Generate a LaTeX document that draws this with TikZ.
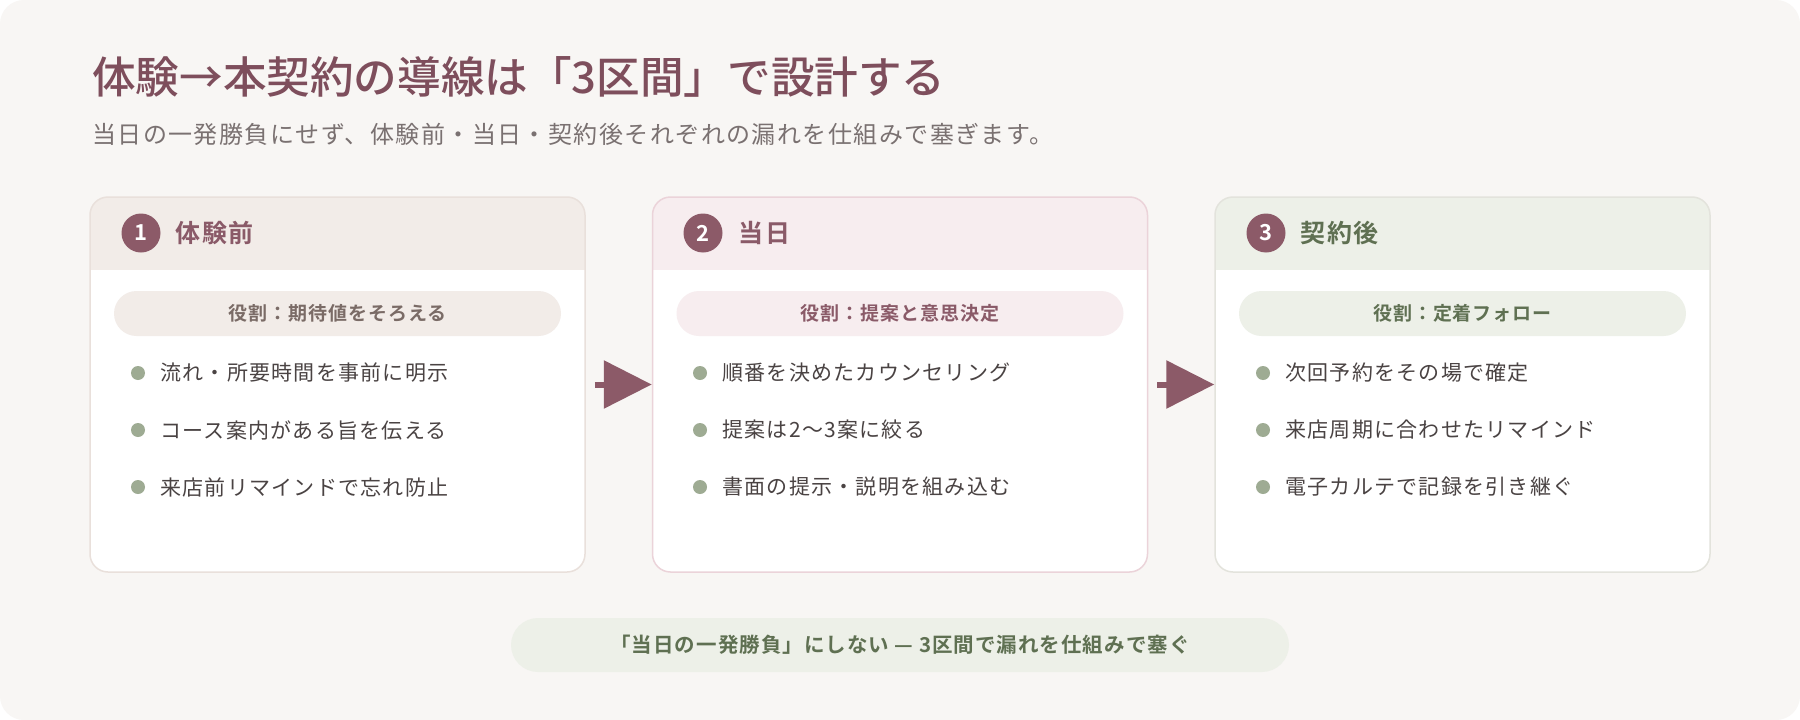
\documentclass[tikz,border=0pt]{standalone}
\usepackage{fontspec}
\setmainfont{Noto Sans CJK JP}[BoldFont={Noto Sans CJK JP Bold}]
\newfontfamily\headfont{Noto Sans CJK JP Medium}
\newfontfamily\spacedfont{Noto Sans CJK JP}[LetterSpace=6]
\newfontfamily\spacedbold{Noto Sans CJK JP Bold}[LetterSpace=5]
\usetikzlibrary{positioning,arrows.meta}

\definecolor{bgpaper}{HTML}{F8F6F4}
\definecolor{mauve}{HTML}{8C5A68}
\definecolor{titlecol}{HTML}{7E4E5C}
\definecolor{subcol}{HTML}{7A7171}
\definecolor{inkcol}{HTML}{4A4343}
\definecolor{sage}{HTML}{9EAB93}
\definecolor{moss}{HTML}{5F7052}
\definecolor{sandfill}{HTML}{F2ECE8}
\definecolor{sandline}{HTML}{E9E0DB}
\definecolor{sandtext}{HTML}{7A6B66}
\definecolor{rosefill}{HTML}{F7EDEF}
\definecolor{roseline}{HTML}{EBD3D9}
\definecolor{rosetext}{HTML}{8A5A68}
\definecolor{leaffill}{HTML}{EDF0E8}
\definecolor{leafline}{HTML}{E3E3DC}

\begin{document}
\begin{tikzpicture}[x=1pt, y=-1pt,
    card/.style={draw=#1, fill=white, line width=1.5pt, rounded corners=18pt,
        minimum width=495pt, minimum height=375pt, inner sep=0pt},
    band/.style={path picture={\fill[#1, sharp corners] ([yshift=2pt]path picture bounding box.north west)
        rectangle ([yshift=-73pt]path picture bounding box.north east);}},
    badge/.style={circle, fill=mauve, minimum size=39pt, inner sep=0pt, text=white,
        font=\bfseries\fontsize{22}{22}\selectfont},
    headtxt/.style={inner sep=0pt, font=\spacedbold\fontsize{25}{30}\selectfont},
    pill/.style={fill=#1, rounded corners=22.5pt, minimum width=447pt, minimum height=45pt,
        inner sep=0pt, font=\spacedbold\fontsize{19}{22}\selectfont},
    dot/.style={circle, fill=sage, minimum size=14pt, inner sep=0pt},
    item/.style={inner sep=0pt, text=inkcol, font=\spacedfont\fontsize{21}{26}\selectfont},
    flow/.style={draw=mauve, line width=6pt, -{Triangle[length=48pt,width=47pt]}},
    banner/.style={fill=leaffill, rounded corners=27pt, minimum width=778pt, minimum height=54pt,
        text=moss, font=\spacedbold\fontsize{20.5}{24}\selectfont}]
    \useasboundingbox (0,0) rectangle (1800,720);
    \fill[white] (0,0) rectangle (1800,720);
    \fill[bgpaper, rounded corners=24pt] (0,0) rectangle (1800,720);

    % title
    \node[anchor=west, inner sep=0pt, text=titlecol, font=\headfont\fontsize{43.6}{50}\selectfont]
        (title) at (92,77) {体験→本契約の導線は「3区間」で設計する};
    \node[anchor=west, inner sep=0pt, text=subcol, font=\spacedfont\fontsize{24}{28}\selectfont]
        (subtitle) at (92,134) {当日の一発勝負にせず、体験前・当日・契約後それぞれの漏れを仕組みで塞ぎます。};

    % cards
    \node[card=sandline, band=sandfill] (card1) at (337.5,384.5) {};
    \node[card=roseline, band=rosefill] (card2) at (900,384.5) {};
    \node[card=leafline, band=leaffill] (card3) at (1462.5,384.5) {};

    % card 1
    \node[badge] (num1) at (141,233) {1};
    \node[headtxt, text=rosetext, right=15pt of num1] (head1) {体験前};
    \node[pill=sandfill, text=sandtext] (role1) at (337.5,313.5) {役割：期待値をそろえる};
    \node[dot] (d11) at (138,373) {};
    \node[item, right=15pt of d11] (t11) {流れ・所要時間を事前に明示};
    \node[dot] (d12) at (138,430) {};
    \node[item, right=15pt of d12] (t12) {コース案内がある旨を伝える};
    \node[dot] (d13) at (138,487) {};
    \node[item, right=15pt of d13] (t13) {来店前リマインドで忘れ防止};

    % card 2
    \node[badge] (num2) at (703,233) {2};
    \node[headtxt, text=rosetext, right=16pt of num2] (head2) {当日};
    \node[pill=rosefill, text=rosetext] (role2) at (900,313.5) {役割：提案と意思決定};
    \node[dot] (d21) at (700,373) {};
    \node[item, right=15pt of d21] (t21) {順番を決めたカウンセリング};
    \node[dot] (d22) at (700,430) {};
    \node[item, right=15pt of d22] (t22) {提案は2〜3案に絞る};
    \node[dot] (d23) at (700,487) {};
    \node[item, right=15pt of d23] (t23) {書面の提示・説明を組み込む};

    % card 3
    \node[badge] (num3) at (1266,233) {3};
    \node[headtxt, text=moss, right=15pt of num3] (head3) {契約後};
    \node[pill=leaffill, text=moss] (role3) at (1462.5,313.5) {役割：定着フォロー};
    \node[dot] (d31) at (1263,373) {};
    \node[item, right=15pt of d31] (t31) {次回予約をその場で確定};
    \node[dot] (d32) at (1263,430) {};
    \node[item, right=15pt of d32] (t32) {来店周期に合わせたリマインド};
    \node[dot] (d33) at (1263,487) {};
    \node[item, right=15pt of d33] (t33) {電子カルテで記録を引き継ぐ};

    % arrows
    \draw[flow] ([xshift=9pt]card1.east) -- (card2.west);
    \draw[flow] ([xshift=9pt]card2.east) -- (card3.west);

    % summary
    \node[banner] (summary) at (900,645) {「当日の一発勝負」にしない — 3区間で漏れを仕組みで塞ぐ};
\end{tikzpicture}
\end{document}
